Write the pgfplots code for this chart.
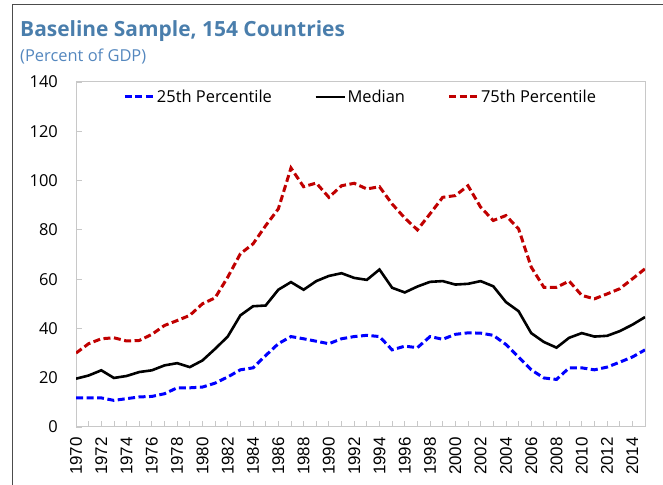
\documentclass[border=0pt]{standalone}
\usepackage{fontspec}
\setmainfont{Open Sans}
\newfontfamily\arialfont{Liberation Sans}
\usepackage{pgfplots}
\pgfplotsset{compat=1.18}
\usepackage{pgfplotstable}
\definecolor{titleblue}{RGB}{74,126,172}
\definecolor{subblue}{RGB}{84,135,190}
\definecolor{axgray}{RGB}{200,200,200}
\definecolor{darkred}{RGB}{192,0,0}
\definecolor{pureblue}{RGB}{0,0,255}

\pgfplotstableread{
year p25 med p75
1970 11.8 19.6 30.0
1971 11.8 20.9 33.8
1972 11.8 23.0 35.8
1973 10.8 19.9 36.2
1974 11.5 20.7 34.9
1975 12.2 22.3 35.1
1976 12.4 23.0 37.6
1977 13.5 25.0 41.2
1978 15.9 25.9 43.2
1979 15.9 24.3 45.3
1980 16.2 27.0 50.0
1981 17.8 31.7 52.4
1982 20.3 36.7 60.8
1983 23.2 45.3 70.3
1984 24.0 49.0 74.3
1985 29.0 49.3 81.7
1986 33.8 55.7 88.5
1987 36.7 58.8 105.1
1988 35.8 55.7 97.5
1989 34.8 59.2 99.0
1990 33.8 61.3 93.2
1991 35.8 62.4 97.9
1992 36.7 60.5 98.9
1993 37.2 59.7 96.6
1994 36.7 63.9 97.5
1995 31.3 56.5 90.5
1996 32.8 54.6 84.8
1997 32.2 57.0 80.0
1998 36.7 58.9 86.5
1999 35.6 59.2 93.2
2000 37.6 57.8 93.9
2001 38.2 58.1 97.9
2002 38.1 59.2 89.2
2003 37.2 57.1 83.8
2004 33.5 50.7 85.8
2005 28.4 47.0 80.4
2006 23.2 38.1 64.9
2007 19.9 34.5 56.7
2008 19.3 32.2 56.7
2009 24.0 36.2 59.2
2010 24.0 38.1 53.4
2011 23.2 36.7 52.0
2012 24.3 37.0 54.0
2013 26.3 38.9 56.1
2014 28.4 41.5 60.1
2015 31.3 44.6 64.2
}\data

\begin{document}
\begin{tikzpicture}[x=1bp,y=1bp]
\path[use as bounding box] (0,0) rectangle (663,485);
\draw[black!70, line width=1bp] (12,0) -- (12,480) -- (663,480);
\node[anchor=base west, inner sep=0pt, font=\fontsize{21}{24}\selectfont\bfseries, text=titleblue] at (20,448) {Baseline Sample, 154 Countries};
\node[anchor=base west, inner sep=0pt, font=\fontsize{16.5}{19}\selectfont, text=subblue] at (20,423) {(Percent of GDP)};
\begin{axis}[
  at={(76bp,58bp)}, anchor=south west,
  scale only axis, width=569bp, height=345bp,
  xmin=1970, xmax=2015, ymin=0, ymax=140,
  ytick={0,20,...,140},
  xtick={1970,1972,...,2014},
  minor xtick={1971,1973,...,2015},
  tick align=inside,
  major tick length=6bp, minor tick length=6bp,
  every tick/.style={axgray, line width=0.8bp},
  axis line style={axgray, line width=1bp},
  xtick pos=bottom, ytick pos=left,
  /pgf/number format/assume math mode=true,
  /pgf/number format/1000 sep={},
  yticklabel style={font=\fontsize{16.5}{19}\selectfont, anchor=east, inner sep=0pt, xshift=-18bp},
  xticklabel style={font=\arialfont\fontsize{17}{20}\selectfont, yshift=-10bp, rotate=90, anchor=east, inner sep=0pt},
  legend columns=3,
  legend style={at={(0.5,1)}, anchor=center, yshift=-15bp, draw=none, fill=none,
    font=\fontsize{16.5}{19}\selectfont, inner sep=0pt,
    nodes={inner sep=1.5bp},
    /tikz/every even column/.append style={column sep=41bp}},
  legend image code/.code={\draw[#1] (0bp,0bp) -- (29bp,0bp);},
]
\addplot[pureblue, line width=3bp, dash pattern=on 7bp off 3.5bp] table[x=year, y=p25] {\data};
\addlegendentry{25th Percentile}
\addplot[black, line width=2.6bp] table[x=year, y=med] {\data};
\addlegendentry{Median}
\addplot[darkred, line width=3bp, dash pattern=on 7bp off 3.5bp] table[x=year, y=p75] {\data};
\addlegendentry{75th Percentile}
\end{axis}
\end{tikzpicture}
\end{document}
